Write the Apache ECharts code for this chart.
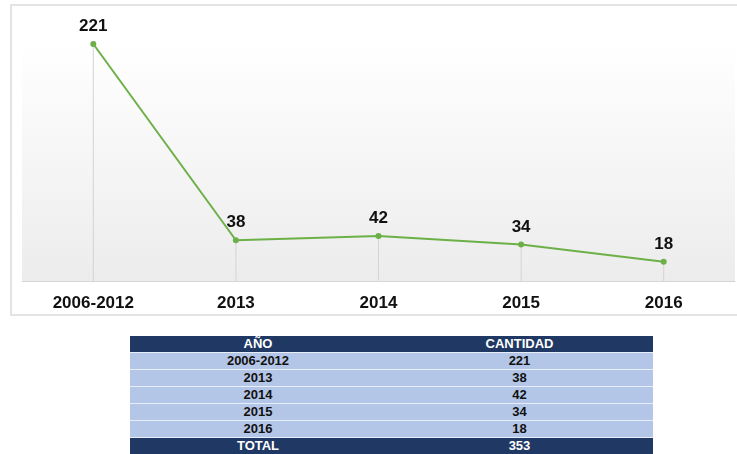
<!DOCTYPE html>
<html>
<head>
<meta charset="utf-8">
<script src="https://cdn.jsdelivr.net/npm/echarts@6/dist/echarts.min.js"></script>
<style>
  html, body { margin: 0; padding: 0; background: #fff; overflow: hidden; }
  body { width: 737px; height: 454px; position: relative; font-family: 'Liberation Sans', Arial, sans-serif; }
  .box {
    position: absolute; left: 10px; top: 4px; width: 760px; height: 312px;
    border: 2px solid #e4e4e4; box-sizing: border-box;
  }
  #chart { position: absolute; left: 0; top: 0; width: 737px; height: 330px; }
  table.datos {
    position: absolute; left: 130px; top: 336px; width: 523px;
    border-collapse: collapse; font-size: 13px; font-weight: bold; text-align: center;
  }
  table.datos td { height: 16px; padding: 0; line-height: 16px; border-bottom: 1px solid #e8eef9; }
  table.datos tr.head td { background: #203864; color: #fff; }
  table.datos tr.row td { background: #b4c6e7; color: #111; }
  table.datos td.c1 { width: 256px; }
</style>
</head>
<body>
<div class="box"></div>
<div id="chart"></div>
<table class="datos" id="tabla"></table>
<script>
const categories = ['2006-2012', '2013', '2014', '2015', '2016'];
const cantidad = [221, 38, 42, 34, 18];
const tableHeader = ['AÑO', 'CANTIDAD'];
const totalLabel = 'TOTAL';

const chart = echarts.init(document.getElementById('chart'));

const option = {
  animation: false,
  grid: {
    left: 22, top: 44, width: 713, height: 237,
    show: true, borderWidth: 0,
    backgroundColor: new echarts.graphic.LinearGradient(0, 0, 0, 1, [
      { offset: 0, color: '#ffffff' },
      { offset: 1, color: '#ececec' }
    ])
  },
  xAxis: {
    type: 'category',
    data: categories,
    axisLine: { lineStyle: { color: '#d6d6d6', width: 1 } },
    axisTick: { show: false },
    axisLabel: { color: '#111', fontSize: 17, fontWeight: 'bold', margin: 14, fontFamily: 'Liberation Sans' },
    splitLine: { show: false }
  },
  yAxis: {
    type: 'value', min: 0, max: 221, show: false,
    splitLine: { show: false }
  },
  series: [
    {
      type: 'bar',
      data: cantidad,
      barWidth: 1,
      itemStyle: { color: '#d4d4d4' },
      silent: true
    },
    {
      type: 'line',
      data: cantidad,
      symbol: 'circle',
      symbolSize: 6,
      lineStyle: { color: '#6cb048', width: 2 },
      itemStyle: { color: '#6cb048' },
      label: {
        show: true, position: 'top', distance: 6,
        color: '#111', fontSize: 17, fontWeight: 'bold', fontFamily: 'Liberation Sans'
      }
    }
  ]
};
chart.setOption(option);

// tabla de datos
const tabla = document.getElementById('tabla');
let html = '<tr class="head"><td class="c1">' + tableHeader[0] + '</td><td>' + tableHeader[1] + '</td></tr>';
categories.forEach((c, i) => {
  html += '<tr class="row"><td class="c1">' + c + '</td><td>' + cantidad[i] + '</td></tr>';
});
const total = cantidad.reduce((a, b) => a + b, 0);
html += '<tr class="head"><td class="c1">' + totalLabel + '</td><td>' + total + '</td></tr>';
tabla.innerHTML = html;

window.addEventListener('resize', () => chart.resize());
</script>
</body>
</html>
